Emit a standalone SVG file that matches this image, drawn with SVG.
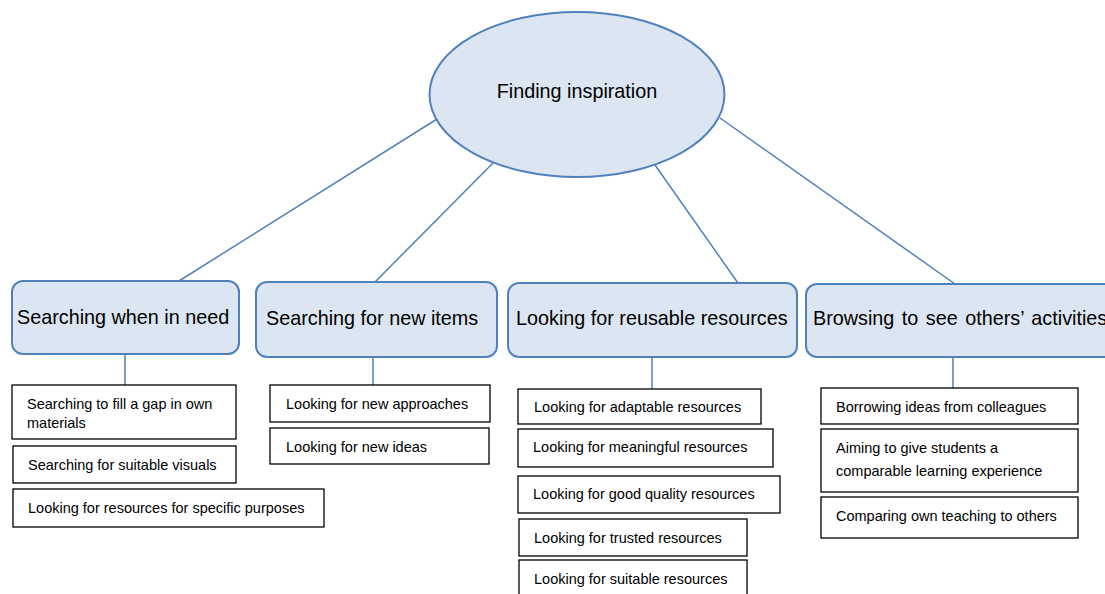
<svg xmlns="http://www.w3.org/2000/svg" width="1105" height="594" viewBox="0 0 1105 594">
<style>
.main{fill:#dce6f2;stroke:#4f81bd;stroke-width:2}
.sub{fill:#ffffff;stroke:#000000;stroke-width:1.3}
.conn line{stroke:#4f81bd;stroke-width:1.5}
.lt{font-family:"Liberation Sans",Arial,sans-serif;font-size:19.8px;fill:#000}
.st{font-family:"Liberation Sans",Arial,sans-serif;font-size:14.5px;fill:#000}
</style>
<rect width="1105" height="594" fill="#ffffff"/>
<g id="connectors" class="conn">
<line x1="437" y1="119" x2="179" y2="281"/>
<line x1="493" y1="163" x2="375" y2="282"/>
<line x1="655" y1="165" x2="738" y2="283"/>
<line x1="720" y1="118" x2="955" y2="284"/>
<line x1="125" y1="354" x2="125" y2="385"/>
<line x1="373" y1="357" x2="373" y2="385"/>
<line x1="652" y1="357" x2="652" y2="389"/>
<line x1="953" y1="357" x2="953" y2="388"/>
</g>
<g id="root">
<ellipse class="main" cx="577" cy="94.5" rx="147.5" ry="82.5"/>
<text class="lt" x="577" y="98" font-size="20.5" text-anchor="middle">Finding inspiration</text>
</g>
<g id="n1">
<rect class="main" x="12" y="281" width="227" height="73" rx="11"/>
<text class="lt" x="17" y="324">Searching when in need</text>
</g>
<g id="n2">
<rect class="main" x="256" y="282" width="241" height="75" rx="11"/>
<text class="lt" x="266" y="325">Searching for new items</text>
</g>
<g id="n3">
<rect class="main" x="508" y="283" width="289" height="74" rx="11"/>
<text class="lt" x="516" y="325">Looking for reusable resources</text>
</g>
<g id="n4">
<rect class="main" x="806" y="284" width="310" height="73" rx="11"/>
<text class="lt" x="813" y="325" font-size="20.6" word-spacing="2">Browsing to see others’ activities</text>
</g>
<g id="n1a"><rect class="sub" x="12" y="385" width="224" height="54"/><text class="st" x="27" y="409">Searching to fill a gap in own</text><text class="st" x="27" y="428">materials</text></g>
<g id="n1b"><rect class="sub" x="13" y="446" width="223" height="37"/><text class="st" x="28" y="470">Searching for suitable visuals</text></g>
<g id="n1c"><rect class="sub" x="13" y="489" width="311" height="38"/><text class="st" x="28" y="513">Looking for resources for specific purposes</text></g>
<g id="n2a"><rect class="sub" x="270" y="385" width="220" height="37"/><text class="st" x="286" y="409">Looking for new approaches</text></g>
<g id="n2b"><rect class="sub" x="270" y="428" width="219" height="36"/><text class="st" x="286" y="452">Looking for new ideas</text></g>
<g id="n3a"><rect class="sub" x="518" y="389" width="243" height="35"/><text class="st" x="534" y="412">Looking for adaptable resources</text></g>
<g id="n3b"><rect class="sub" x="518" y="429" width="255" height="38"/><text class="st" x="533" y="452">Looking for meaningful resources</text></g>
<g id="n3c"><rect class="sub" x="518" y="476" width="262" height="37"/><text class="st" x="533" y="499">Looking for good quality resources</text></g>
<g id="n3d"><rect class="sub" x="519" y="519" width="228" height="37"/><text class="st" x="534" y="543">Looking for trusted resources</text></g>
<g id="n3e"><rect class="sub" x="519" y="560" width="228" height="40"/><text class="st" x="534" y="584">Looking for suitable resources</text></g>
<g id="n4a"><rect class="sub" x="821" y="388" width="257" height="36"/><text class="st" x="836" y="412">Borrowing ideas from colleagues</text></g>
<g id="n4b"><rect class="sub" x="821" y="429" width="257" height="63"/><text class="st" x="836" y="453">Aiming to give students a</text><text class="st" x="836" y="476">comparable learning experience</text></g>
<g id="n4c"><rect class="sub" x="821" y="497" width="257" height="41"/><text class="st" x="836" y="521">Comparing own teaching to others</text></g>
</svg>
